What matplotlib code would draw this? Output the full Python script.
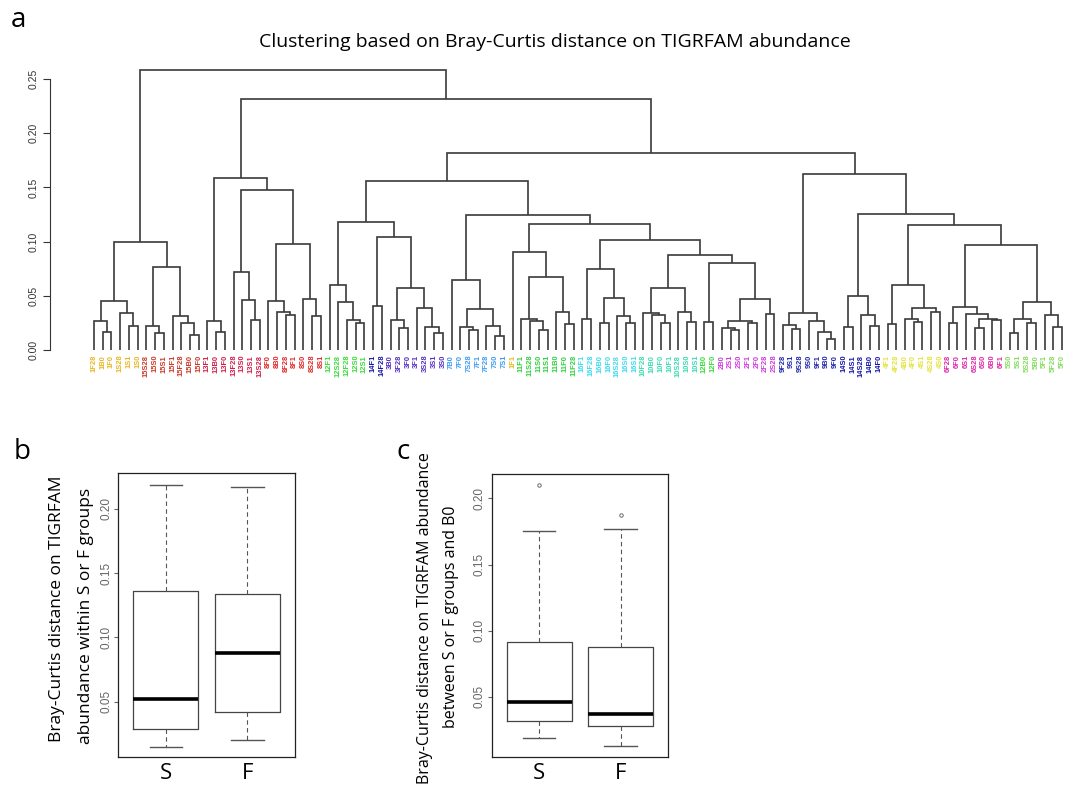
import re
import matplotlib
matplotlib.use("Agg")
import matplotlib.pyplot as plt

plt.rcParams['font.family'] = ['Open Sans', 'DejaVu Sans']

# Dendrogram: nested [height, left, right], leaves are sample names
A1 = [0.045, [0.027, '1F28', [0.017, '1B0', '1F0']], [0.034, '1S28', [0.022, '1S1', '1S0']]]
A15 = [0.077, [0.0225, '15S28', [0.016, '15S0', '15S1']],
       [0.031, '15F1', [0.0245, '15F28', [0.014, '15B0', '15F0']]]]
B13a = [0.027, '13F1', [0.017, '13B0', '13F0']]
B13b = [0.0716, '13F28', [0.046, '13S0', [0.028, '13S1', '13S28']]]
B8 = [0.0975, [0.045, '8F0', [0.035, '8B0', [0.032, '8F28', '8F1']]],
      [0.047, '8S0', [0.031, '8S28', '8S1']]]
C12 = [0.06, '12F1', [0.044, '12S28', [0.0275, '12F28', [0.025, '12S0', '12S1']]]]
C3 = [0.104, [0.041, '14F1', '14F28'],
      [0.057, [0.0275, '3B0', [0.02, '3F28', '3F0']],
       [0.0385, '3F1', [0.0215, '3S28', [0.0155, '3S1', '3S0']]]]]
D7 = [0.0645, '7B0', [0.0375, [0.021, '7F0', [0.018, '7S28', '7F1']],
                      [0.0225, '7F28', [0.0125, '7S0', '7S1']]]]
D11 = [0.0907, '1F1', [0.067, [0.029, '11F1', [0.027, '11S28', [0.018, '11S0', '11S1']]],
                       [0.035, '11B0', [0.024, '11F0', '11F28']]]]
D16 = [0.0744, [0.029, '16F1', '16F28'],
       [0.0477, [0.025, '16B0', '16F0'], [0.031, '16S28', [0.025, '16S0', '16S1']]]]
D10 = [0.057, [0.034, '10F28', [0.032, '10B0', [0.025, '10F0', '10F1']]],
       [0.035, '10S28', [0.0258, '10S0', '10S1']]]
D2 = [0.0474, [0.0267, [0.0206, '2B0', [0.018, '2S1', '2S0']], [0.0245, '2F1', '2F0']],
      [0.0335, '2F28', '2S28']]
E9 = [0.0345, [0.023, '9F28', [0.019, '9S1', '9S28']],
      [0.027, '9S0', [0.017, '9F1', [0.0104, '9B0', '9F0']]]]
E14 = [0.0495, [0.0215, '14S0', '14S1'], [0.0326, '14S28', [0.0225, '14B0', '14F0']]]
E4 = [0.0597, [0.0244, '4F1', '4F28'],
      [0.039, [0.029, '4B0', [0.0255, '4F0', '4S1']], [0.035, '4S28', '4S0']]]
E6 = [0.0394, [0.025, '6F28', '6F0'],
      [0.033, '6S1', [0.0285, [0.020, '6S28', '6S0'], [0.0275, '6B0', '6F1']]]]
E5 = [0.044, [0.029, [0.0155, '5S0', '5S1'], [0.025, '5S28', '5B0']],
      [0.0325, '5F1', [0.0215, '5F28', '5F0']]]

A = [0.0996, A1, A15]
B = [0.159, B13a, [0.148, B13b, B8]]
C = [0.118, C12, C3]
D = [0.1245, D7, [0.116, D11, [0.1015, D16, [0.088, D10, [0.080, [0.0255, '12B0', '12F0'], D2]]]]]
E = [0.162, E9, [0.1255, E14, [0.115, E4, [0.097, E6, E5]]]]
tree = [0.258, A, [0.232, B, [0.1815, [0.156, C, D], E]]]

subject_colors = {'1': '#E6B822', '15': '#C83C2A', '13': '#D0204C', '8': '#E02828',
                  '12': '#3CDC3C', '14': '#1818A8', '3': '#5530C0', '7': '#3C9CF0',
                  '11': '#30D040', '16': '#40DCEC', '10': '#3CDCB4', '2': '#CC3CDC',
                  '9': '#2028A8', '4': '#E4E43C', '6': '#DC28A8', '5': '#84DC5C'}

# Boxplot summaries (within groups, and vs B0)
groups = ['S', 'F']
within_stats = {'S': dict(whislo=0.015, q1=0.0288, med=0.0518, q3=0.1363, whishi=0.2185, fliers=[]),
                'F': dict(whislo=0.020, q1=0.0418, med=0.0876, q3=0.134, whishi=0.2172, fliers=[])}
between_stats = {'S': dict(whislo=0.0188, q1=0.0318, med=0.046, q3=0.0916, whishi=0.1753, fliers=[0.210]),
                 'F': dict(whislo=0.0127, q1=0.0281, med=0.0369, q3=0.0878, whishi=0.1768, fliers=[0.1874])}

fig = plt.figure(figsize=(10.78, 7.94), dpi=100)

# ---- panel a: dendrogram
ax = fig.add_axes([0.0464, 0.5592, 0.9509, 0.3549])
leaves = []


def draw(node):
    if isinstance(node, str):
        leaves.append(node)
        return len(leaves) - 1, 0.0
    h, left, right = node
    xl, hl = draw(left)
    xr, hr = draw(right)
    ax.plot([xl, xl, xr, xr], [hl, h, h, hr], color='#3a3a3a', lw=1.2,
            solid_joinstyle='miter', solid_capstyle='butt')
    return (xl + xr) / 2, h


draw(tree)
for i, name in enumerate(leaves):
    subj = re.match(r'\d+', name).group()
    ax.text(i, -0.0045, name, rotation=90, ha='center', va='top', fontsize=5.4,
            fontweight='bold', color=subject_colors[subj], family='Liberation Sans')

ax.set_xlim(-5.05, 112.5)
ax.set_ylim(0, 0.26)
for s in ['top', 'right', 'bottom']:
    ax.spines[s].set_visible(False)
ax.spines['left'].set_bounds(0, 0.25)
ax.spines['left'].set_color('#333333')
ax.set_xticks([])
ax.set_yticks([0, 0.05, 0.10, 0.15, 0.20, 0.25])
ax.set_yticklabels(['0.00', '0.05', '0.10', '0.15', '0.20', '0.25'], rotation=90,
                   va='center', fontsize=7.5, family='Liberation Sans', color='#333333')
ax.tick_params(axis='y', length=5, color='#333333', pad=3)

fig.text(555 / 1078, 1 - 42 / 794, 'Clustering based on Bray-Curtis distance on TIGRFAM abundance',
         ha='center', va='center', fontsize=14)


# ---- panels b and c: boxplots
def boxpanel(rect, stats, ylim, xlim, lines, fsize):
    bx = fig.add_axes(rect)
    data = [dict(stats[g], label=g) for g in groups]
    bx.bxp(data, positions=[1, 2], widths=0.8, capwidths=0.4, showfliers=True,
           boxprops=dict(color='#444444', lw=0.9),
           whiskerprops=dict(color='#555555', lw=0.8, linestyle=(0, (4, 3))),
           capprops=dict(color='#555555', lw=1.0),
           medianprops=dict(color='black', lw=2.6),
           flierprops=dict(marker='o', markersize=2.5, markerfacecolor='none',
                           markeredgecolor='#555555', markeredgewidth=0.6))
    bx.set_xlim(*xlim)
    bx.set_ylim(*ylim)
    bx.set_yticks([0.05, 0.10, 0.15, 0.20])
    bx.set_yticklabels(['0.05', '0.10', '0.15', '0.20'], rotation=90, va='center',
                       fontsize=8.5, color='#666666', family='Liberation Sans')
    bx.tick_params(axis='y', length=3, color='#666666', pad=1.5)
    bx.tick_params(axis='x', length=0, labelsize=16, pad=4)
    for s in bx.spines.values():
        s.set_color('#222222')
        s.set_linewidth(0.9)
    for text, x, y in lines:
        fig.text(x / 1078, 1 - y / 794, text, rotation=90, ha='center', va='center',
                 fontsize=fsize)
    return bx


boxpanel([0.1097, 0.0462, 0.1639, 0.3577], within_stats, (0.0068, 0.2276), (0.415, 2.585),
         [('Bray-Curtis distance on TIGRFAM', 57, 609),
          ('abundance within S or F groups', 86, 616)], 12.5)
boxpanel([0.4561, 0.0462, 0.1638, 0.3568], between_stats, (0.0042, 0.2185), (0.418, 2.582),
         [('Bray-Curtis distance on TIGRFAM abundance', 425, 618),
          ('between S or F groups and B0', 451, 617)], 11.5)

fig.text(18 / 1078, 1 - 20 / 794, 'a', ha='center', va='center', fontsize=20)
fig.text(22 / 1078, 1 - 452 / 794, 'b', ha='center', va='center', fontsize=20)
fig.text(403 / 1078, 1 - 452 / 794, 'c', ha='center', va='center', fontsize=20)

fig.savefig('out.png', dpi=100)
